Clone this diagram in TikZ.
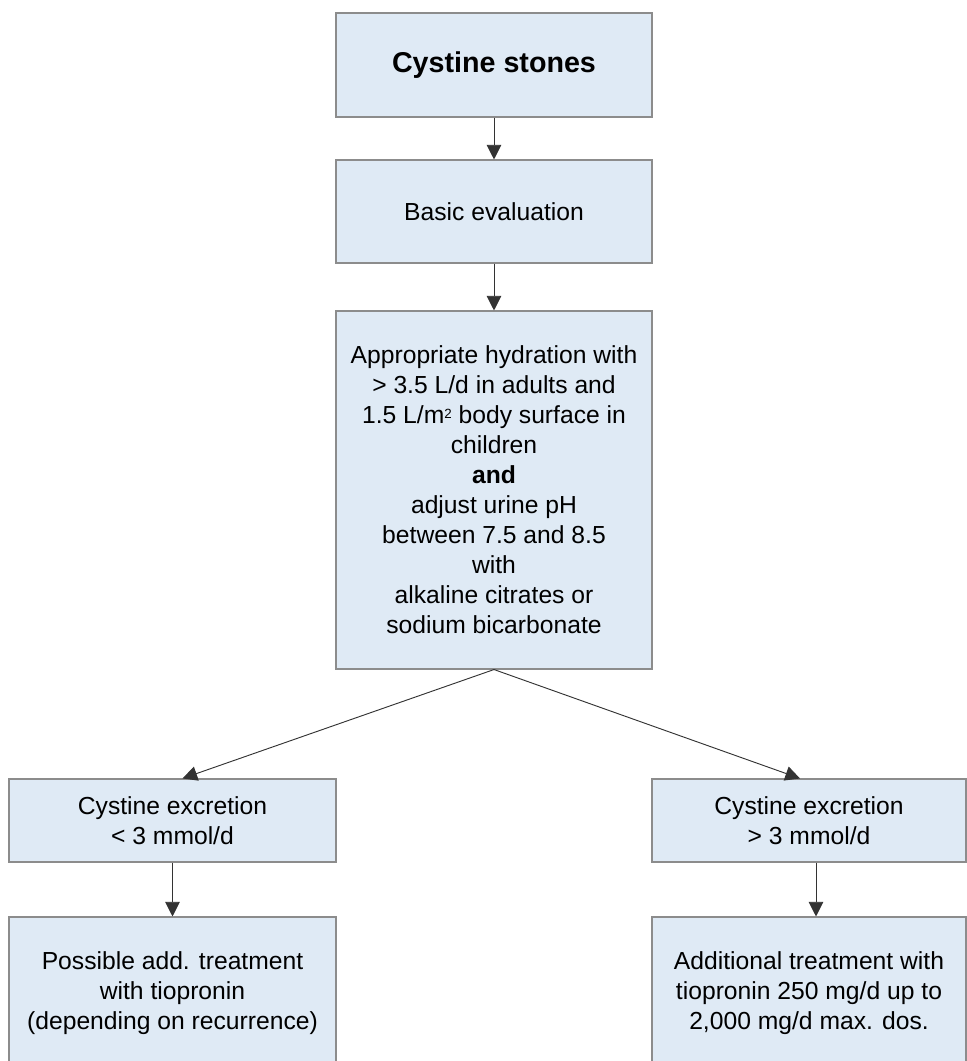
\documentclass[tikz,border=0pt]{standalone}
\usepackage{fontspec}
\setmainfont{Liberation Sans}
\usetikzlibrary{arrows.meta}

\definecolor{boxfill}{RGB}{223,234,245}
\definecolor{boxline}{RGB}{140,140,140}

\newcommand{\sqsup}{{\fontsize{10}{10}\selectfont\raisebox{0.75ex}{2}}}

\tikzset{
  flowbox/.style={draw=boxline, line width=0.8pt, fill=boxfill, inner sep=0pt,
    align=center, font=\fontsize{18.5}{22.5}\selectfont},
  flowarrow/.style={draw=black!80, line width=0.7pt, -{Triangle[length=11pt,width=11pt]}}
}

\begin{document}
\begin{tikzpicture}[x=0.75pt,y=0.75pt,yscale=-1,xscale=1]
	%set diagram to the size of the reference
	\clip (0,0) rectangle (967,1061);
	
	%Shape: Rectangle [top]
	\node [flowbox, minimum width=237pt, minimum height=78pt, font=\fontsize{21.5}{26}\selectfont\bfseries] (stones) at (494,65) {Cystine stones};
	%Shape: Rectangle [evaluation]
	\node [flowbox, minimum width=237pt, minimum height=77.25pt] (basic) at (494,211.5) {Basic evaluation};
	%Shape: Rectangle [hydration]
	\node [flowbox, minimum width=237pt, minimum height=268.5pt] (hydration) at (494,490) {Appropriate hydration with\\ > 3.5 L/d in adults and\\ 1.5 L/m\sqsup{} body surface in\\ children\\ \textbf{and}\\ adjust urine pH\\ between 7.5 and 8.5\\ with\\ alkaline citrates or\\ sodium bicarbonate};
	
	%Shape: Rectangle [excretion low]
	\node [flowbox, minimum width=245.25pt, minimum height=62.25pt] (exlow) at (172.5,820.5) {Cystine excretion\\ < 3 mmol/d};
	%Shape: Rectangle [excretion high]
	\node [flowbox, minimum width=235.5pt, minimum height=62.25pt] (exhigh) at (809,820.5) {Cystine excretion\\ > 3 mmol/d};
	
	%Shape: Rectangle [treatment low]
	\node [flowbox, minimum width=245.25pt, minimum height=114pt] (treatlow) at (172.5,993) {Possible add. treatment\\ with tiopronin\\ (depending on recurrence)};
	%Shape: Rectangle [treatment high]
	\node [flowbox, minimum width=235.5pt, minimum height=114pt] (treathigh) at (809,993) {Additional treatment with\\ tiopronin 250 mg/d up to\\ 2,000 mg/d max. dos.};
	
	%Straight Lines
	\draw [flowarrow] (stones.south) -- (basic.north) ;
	\draw [flowarrow] (basic.south) -- (hydration.north) ;
	\draw [flowarrow] (hydration.south) -- ([xshift=7.5pt]exlow.north) ;
	\draw [flowarrow] (hydration.south) -- ([xshift=-6.75pt]exhigh.north) ;
	\draw [flowarrow] (exlow.south) -- (treatlow.north) ;
	\draw [flowarrow] ([xshift=5.25pt]exhigh.south) -- ([xshift=5.25pt]treathigh.north) ;
	
\end{tikzpicture}
\end{document}
